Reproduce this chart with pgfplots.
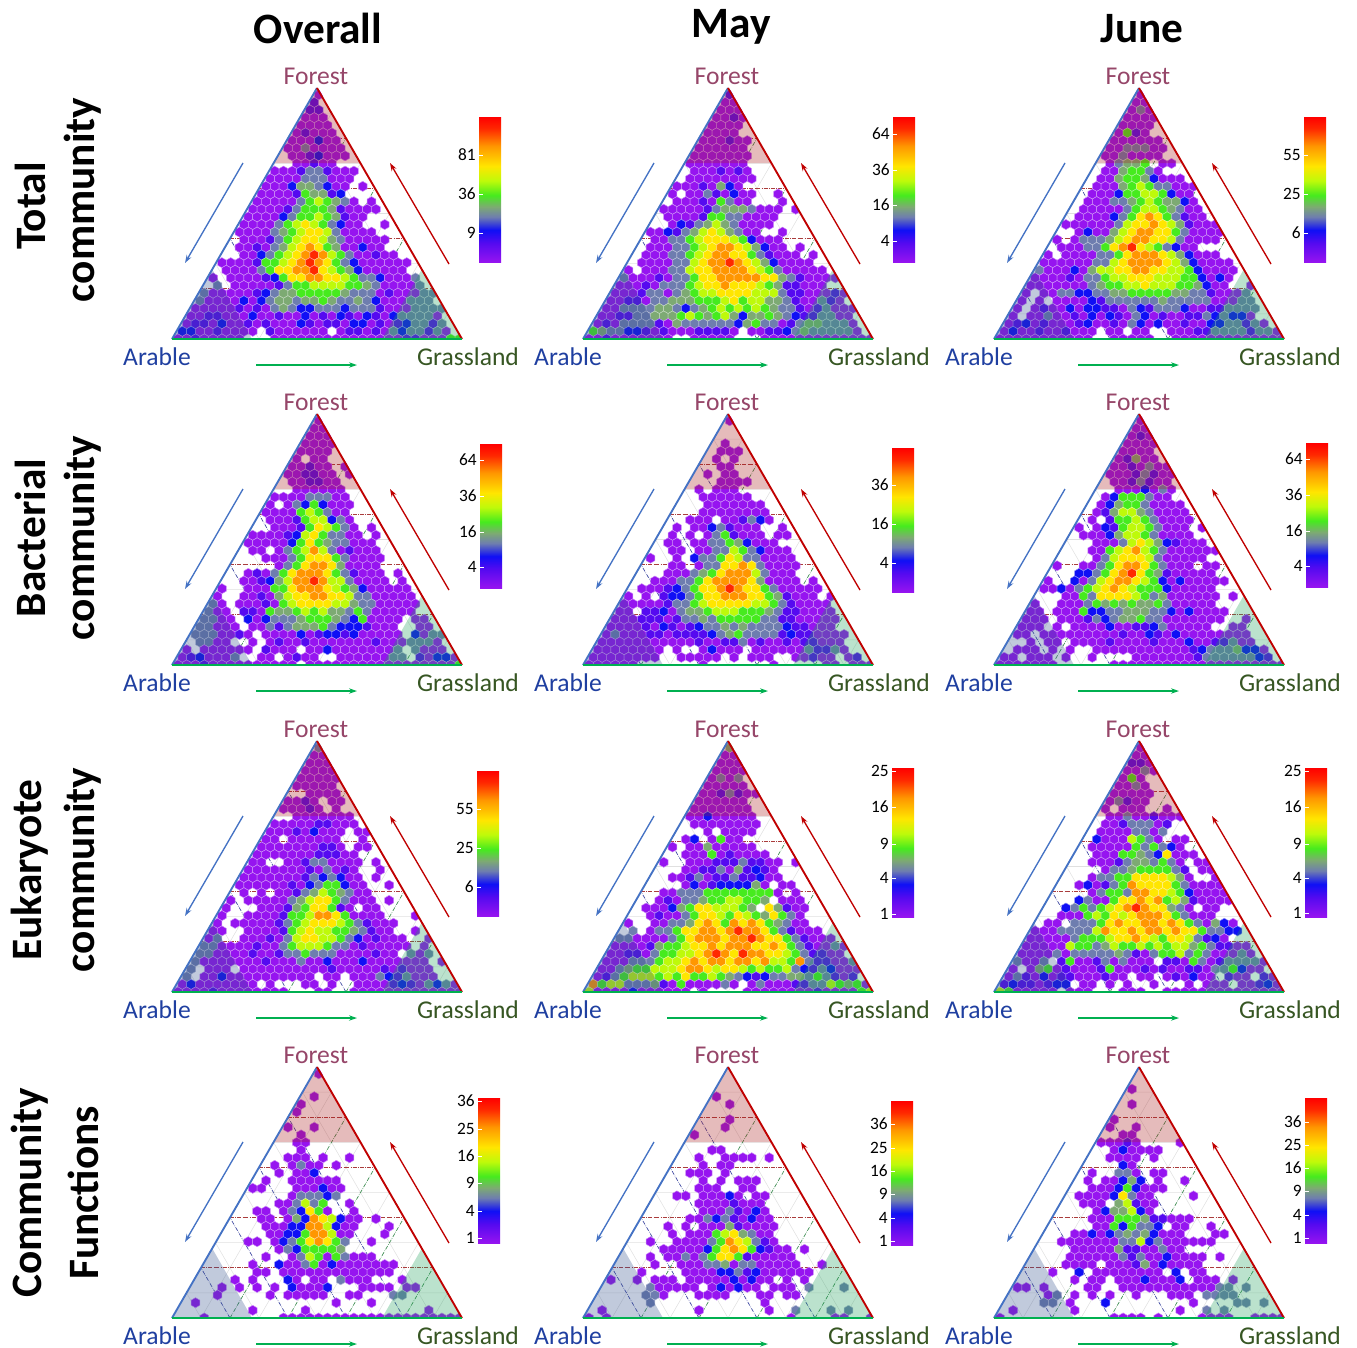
\documentclass[border=0pt]{standalone}
\usepackage{pgfplots}
\pgfplotsset{compat=1.18}
\usepackage{fontspec}
\setmainfont{Carlito}
\usetikzlibrary{arrows.meta}
\definecolor{c0}{RGB}{150,20,240}\definecolor{c1}{RGB}{85,10,240}\definecolor{c2}{RGB}{15,15,245}
\definecolor{c3}{RGB}{110,125,175}\definecolor{c4}{RGB}{125,170,115}\definecolor{c5}{RGB}{70,235,30}
\definecolor{c6}{RGB}{190,250,10}\definecolor{c7}{RGB}{255,230,0}\definecolor{c8}{RGB}{255,150,0}\definecolor{c9}{RGB}{255,40,0}
\pgfdeclareverticalshading{rb}{100bp}{color(0bp)=(c0);color(25bp)=(c0);color(31.5bp)=(c1);color(36bp)=(c2);color(40.5bp)=(c3);color(44bp)=(c4);color(48bp)=(c5);color(53bp)=(c6);color(58bp)=(c7);color(65bp)=(c8);color(71bp)=(c9);color(75bp)=(red);color(100bp)=(red)}
\pgfplotsset{colormap={hx}{color=(c0) color=(c1) color=(c2) color=(c3) color=(c4) color=(c5) color=(c6) color=(c7) color=(c8) color=(c9)}}
\pgfdeclareplotmark{hexc}{\pgfpathmoveto{\pgfqpoint{0pt}{3.81pt}}\pgfpathlineto{\pgfqpoint{3.3pt}{1.905pt}}\pgfpathlineto{\pgfqpoint{3.3pt}{-1.905pt}}\pgfpathlineto{\pgfqpoint{0pt}{-3.81pt}}\pgfpathlineto{\pgfqpoint{-3.3pt}{-1.905pt}}\pgfpathlineto{\pgfqpoint{-3.3pt}{1.905pt}}\pgfpathclose\pgfusepathqfillstroke}
\newcount\hi\newcount\hj
\def\addpt#1{\pgfmathparse{146.7+8.8*(\the\hi-\the\hj/2)}\let\px\pgfmathresult\pgfmathparse{244.2-7.63*\the\hj}\let\py\pgfmathresult\xdef\coordlist{\coordlist (\px,\py) [#1]}}
\def\RC#1{\ifx#1;\let\nx\relax\else\ifx#1/\global\advance\hj by 1 \global\hi=0 \let\nx\RC\else\ifx#1.\else\addpt{#1}\fi\global\advance\hi by 1 \let\nx\RC\fi\fi\nx}
\def\hexdata#1{\gdef\coordlist{}\global\hi=0 \global\hj=0 \expandafter\RC#1;}
\newcommand\panel[3]{\hexdata{#3}%
\begin{axis}[at={({#1*0.75pt},{-#2*0.75pt})},anchor=south west,x=0.75pt,y=0.75pt,xmin=0,xmax=290,ymin=0,ymax=251,hide axis,clip=false,clip marker paths=true,unbounded coords=jump,colormap name=hx,point meta min=0,point meta max=9]
\addplot[black!12,line width=0.4pt,forget plot] coordinates {(14.5,25.1)(275.5,25.1)(0,nan)(43.5,75.3)(246.5,75.3)(0,nan)(72.5,125.5)(217.5,125.5)(0,nan)(101.5,175.7)(188.5,175.7)(0,nan)(130.5,225.9)(159.5,225.9)(0,nan)(29,0)(14.5,25.1)(0,nan)(87,0)(43.5,75.3)(0,nan)(145,0)(72.5,125.5)(0,nan)(203,0)(101.5,175.7)(0,nan)(261,0)(130.5,225.9)(0,nan)(29,0)(159.5,225.9)(0,nan)(87,0)(188.5,175.7)(0,nan)(145,0)(217.5,125.5)(0,nan)(203,0)(246.5,75.3)(0,nan)(261,0)(275.5,25.1)};
\addplot[color={rgb,255:red,170;green,60;blue,60},densely dashdotted,line width=0.5pt,forget plot] coordinates {(29,50.2)(261,50.2)(0,nan)(58,100.4)(232,100.4)(0,nan)(87,150.6)(203,150.6)(0,nan)(116,200.8)(174,200.8)};
\addplot[color={rgb,255:red,60;green,70;blue,160},densely dashdotted,line width=0.5pt,forget plot] coordinates {(58,0)(29,50.2)(0,nan)(116,0)(58,100.4)(0,nan)(174,0)(87,150.6)(0,nan)(232,0)(116,200.8)};
\addplot[color={rgb,255:red,60;green,140;blue,80},densely dashdotted,line width=0.5pt,forget plot] coordinates {(58,0)(174,200.8)(0,nan)(116,0)(203,150.6)(0,nan)(174,0)(232,100.4)(0,nan)(232,0)(261,50.2)};
\edef\tmp{\noexpand\addplot[scatter,only marks,mark=hexc,point meta=explicit,line width=0.35pt,scatter/use mapped color={draw=white!55!mapped color,fill=mapped color}] coordinates {\coordlist};}\tmp
\addplot[fill=white,draw=none,forget plot] coordinates {(144.7,253)(-5,-9)(-12,-9)(-12,253)} --cycle;
\addplot[fill=white,draw=none,forget plot] coordinates {(145.3,253)(295,-9)(302,-9)(302,253)} --cycle;
\addplot[fill=white,draw=none,forget plot] coordinates {(-5,0)(295,0)(295,-9)(-5,-9)} --cycle;
\addplot[draw=none,fill={rgb,255:red,170;green,30;blue,30},fill opacity=0.3,forget plot] coordinates {(145,251)(102,176)(188,176)} --cycle;
\addplot[draw=none,fill={rgb,255:red,50;green,80;blue,140},fill opacity=0.3,forget plot] coordinates {(0,0)(80,0)(40,70)} --cycle;
\addplot[draw=none,fill={rgb,255:red,30;green,160;blue,90},fill opacity=0.3,forget plot] coordinates {(210,0)(290,0)(250,70)} --cycle;
\addplot[color={rgb,255:red,68;green,114;blue,196},line width=1.4pt,forget plot] coordinates {(0,0)(145,251)};
\addplot[color={rgb,255:red,192;green,0;blue,0},line width=1.4pt,forget plot] coordinates {(145,251)(290,0)};
\addplot[color={rgb,255:red,0;green,176;blue,80},line width=1.4pt,forget plot] coordinates {(0,0)(290,0)};
\addplot[color={rgb,255:red,68;green,114;blue,196},line width=1pt,-{Stealth[length=6pt,width=4pt]},forget plot] coordinates {(71,176)(13,76)};
\addplot[color={rgb,255:red,192;green,0;blue,0},line width=1pt,-{Stealth[length=6pt,width=4pt]},forget plot] coordinates {(277,75)(218,176)};
\addplot[color={rgb,255:red,0;green,176;blue,80},line width=1pt,-{Stealth[length=6pt,width=4pt]},forget plot] coordinates {(84,-26)(185,-26)};
\node[inner sep=0pt,font=\fontsize{19.2}{19.2}\selectfont,text={rgb,255:red,150;green,70;blue,105}] at (axis cs:144,263) {Forest};
\node[inner sep=0pt,font=\fontsize{19.2}{19.2}\selectfont,text={rgb,255:red,31;green,63;blue,160}] at (axis cs:-15,-18) {Arable};
\node[inner sep=0pt,font=\fontsize{19.2}{19.2}\selectfont,text={rgb,255:red,55;green,86;blue,35}] at (axis cs:296,-18) {Grassland};
\end{axis}}
\newcommand\cbar[5]{\begin{scope}[x=0.75pt,y=-0.75pt]\shade[shading=rb] (#1,#3) rectangle (#2,#4);
\foreach \v/\yy in {#5}{\draw[white,line width=0.5pt] (#1,\yy)--(#1+4,\yy);\node[anchor=east,inner sep=0pt,font=\fontsize{13}{14}\selectfont] at (#1-3,\yy) {\v};}\end{scope}}
\def\dA{0/1./11./000./0000./01000./000200./0030000./.0012000./..00100.../
0001331000./0000333000../0002443200.0./0000154412..../000003565430.0./000013555410000./
00002355654100.../00003567653200..0./0000345677630000.../.00013567764300000../
.00103467875400200.../..002356789865300100../0000155678987532000000./.0000357788976542 00000../
0.0000125778877653320003./.3.00000135566665543 00003./300000123445555543330100033/
3000020234 4344543343 2000333./0000010103 4322333233 310003333/0011000200 1002010210 210233330./
0110200101 0002101102 2010123313./220010000. 1000000.01 10103233130./00100000.. .000000000 0000001100 055}
\def\dB{1/00/000/0010/0000./0000../000100./000000../0000000../0000000.../
.0001010.../.00000000.../00010420...../0.00310200..0./.000105300...0./00000134443000.0/
.0000155330000.../..021346430000..../0021346764300..0.../.003356777652000..../.00033567887642 00.0../
.00033567887753 1000.0./.0000336788987642 0000../0.000 3367788887653 00000./300010335 7788888774 310000/
000103335 6778777654 11000../000133034 5667777666 31100010/001103344 4555675664 43100310./0033334432 3456565654 331013000/
0011334445 6545642445 432113300./0103333104 3333332453 3013443330./5433221010 0011110.00 11234333330./0010000000 ..00000... 0000000000 000}
\def\dC{0/00/030/0000/0000./0510../000000./0033300./0030000../.03445.00./.0045530.../.0045542000./.000456533000/.000255665200./
.00033456544 20./.00000356654300./.000023578753100./000000367787641000/..02004678877530000/0.03334678877630000./.0003357897653200..../
0.000033578887642000../0000003367888876420000./3000204667 7887766520 000./0000103356 6777666552 020../0000000345 5667666554 200..0/
0.00332233 4455555443 310003./0.0.000021 3333334333 3300033./0.01002022 1103213332 00113333./0.00300102 0210320100 11323220../
0120100012 0010320200 1002233130./0200100100 0.00.00..0 001133331330/0000000000 0..00000.. 0000000000 000}
\def\dD{0/00/000/0000/0000./0.00../00100.0/001100.0/.001100../..000000../00003330 0../0.03252000../0000565300.../.0001566230.../
..0001576530.0./00001267533 00.0./0000025754330 00../.00.03568630100 0../...0003577753 0000../.....035788740 000.../
..0103578887531000.0./..00124688986630000.0./0..00055 7888765420 0000./0..00104 6778877633 00000./30.00010 5677776643 300000./
300.1105 4456564435 300000../3300.202 3334555432 50000.00./33000.00 3134445322 21000..00./3330010.00 0020122120 0000.2033/
.3300..0.0 1001000000 010003330./0.000000.1 000.002000 00003.3000./0120003..0 0.0100..00 000033.10220/0001000000 0000.00000 0000000000 005}
\def\dE{0/../.../.0../.000./.0.0../..00.../.0.00.../...0000../.0.000..../..000000.../...0000000../...00000000../..000.0013 20..../
.0.00231000..0./.0.0.0351000.00./.00.0033542000.../..00.00336532000../0..0.2335 76330 000../...00.033 778730000../...000345 788863000 .../
..0003357 8888740000.0./.00012357 7898775300 000./0.0.12235 7788877541 000.0/000001335 6777776653 10000./00.112034 4566655543 110000./
000111013 3435555533 1100000./0000102101 2334343333 211000../0300011011 1123453333 12110000./0000000000 0100113010 01011000../
00000000.0 ..02000.00 000031130../00000000.. 00000.0.00 0..00100.01./000000.... ...0...... .0.....00. 000}
\def\dF{0/00/010/0000/0000./01400./0010300/00013100/.0013100./..00020 30./.02555300../.0245530000./.01466430000./.0.1556530000./
0.0215665 3000.0/.0002466530000../...0003676421000./...005678653000000/....03677763 00000../0..00357 88753000.00./...22357 89754 100000../
0..20367 8876520200 000./00203567 8765552000 00.../...00537 7776534000 000.0./0..00035 4545445300 000..../00.00052 2334443320 20000.../
000.0001 3234453300 00000..0./000.0.0000 2001123000 00..00../00.0000000 0010021020 0000000../..0.00.000 0100001000 20011300../
.000.0.0.. 0000000000 0123334220./00.000.0.. 0....00000 00133333321./0000000... ...0000000 0000000000 000}
\def\dG{3/00/000/0000/00000/00000./..0000./0010.00./00010.0../..0000000./0000011000./000102000.00/00.000000..0./0000000110.00./
000000011100.../00..00133000 0.0./0000000103010..0./00000001323200.0../0000001023 55200..0./.0.0.00134 654300..../0.00000346 7753000.0../
0...000145 775 10.00.../0..0000155 688750000. ..0./0.00000135 6777653100 0.../00..000015 6766554310 0..0./03..000103 6776653201 000..0/
3300001003 5666533010 0000.0./3300001001 3353330000 100.303./3000000010 0030020002 0000000.0/3.000.0000 0000001000 00101000../
3.00200000 00000.00.0 003213000../020000000. 0...00.0.. 000012103230/0000100000 000...00.. 0000000000 000}
\def\dH{4/00/000/0000/0303./00000./0013100/000000../0000000../00200000../.00000000../...0.0000.../.02.0500...../0.00400000..../
..0005010000.../0..000111 31100.0/...00113041210.../..00130113 11200.../....0201222240.00../..00333555 555550.0../..01033455 66554.000../
.000245776 6654.74100 ../..01003577 6576547530 .../0..0033478 7587875430 0.../.3.0335778 8789887531 000../3300003578 8878898775 31000./
0000145567 7878887787 5310030/0011035566 7898798877 6531100./0003335667 8788788786 658311003/0034556667 8876776565 5632132000/
0135666565 7556543212 3344353101./8566333410 5000030.03 000113365450/6000020000 00.0....00 0000001000 056}
\def\dI{0/00/110/0030/050../0030../00000../03100.../0.000..0./.003001000/.00133301../.000033 03.../.20006530.00./.00000535320../
..000554327000./..00013443 530.00/....033455 5531.00/...033557 777640..0/..02013587 777530000/....035538 8776520000/...2300577 87856410000/
..23535678 98774 30.00../..00056576 7888753000 .../.00.333578 7788787530 420./0003333687 7878878775 3322./0000035556 7787657763 120.../
0000065534 6556565664 531100./0000303333 3431035563 5300030./3003.15001 303000.110 530133330/0.04501000 1500010100 110335200./
0310201100 0100.00.01 0200.100.10/12110122.0 0.0.0..0.. .0.000.00120/6500000.00 0...000..0 0000000000 000}
\def\dJ{0/../.../.0../0..../0...../......./0..0..../..0....../..00....../...0......./..000.0..0../.0.0300.0..../..0.002......./
.0..000000...../00...00020 0...../.....033323....../....003635..0...../..00.032750..0...../...00.0428 76200.0.../....000228 86200...0../
.....00225 88600...0.../...00.0235 78753..0.. .../.......032 55554..... ..../......0..0 365053000. ...../.....0..20 0350200000 00..../
......00.0 0000000000 00...../....0.0... 20.00.3000 ...0..../...0.0.0.0 .20002...0 000.00.../...0.....0 .00000..00 ...33...../
.0........ .......0.. .0........./........0. ....0..... ........0.../...0...... ..00000000 0000000000 000}
\def\dK{./../.../0.../..0../....../...0.../...0..../0......../........../...00....../..0..0000.0./...0.00......./..000.0......./
....0.0.000..../....000..00...../..00.00020.00..../.....00001000...../......0003 1020...../.....00323 1020 0...../...0.0.000 4100 00...../
....0.0005 67430 0....../..0..00003 5876310 ..../....000002 578752100. 0.../...0.0030 3577510000 0..../....0..000 3340330000 0..0../
...0....00 0022312000 000..../0..0.000.0 0000 2020 0. 0.0...../.....30000 0.020200.0 00.3...3./.....330.. .0000...00 .00......./
......3... .........0 .........../.0........ ..0....... 0..3...3.3../0.0....... .......... ...0....00 ..0}
\def\dL{./../0../..../.0.../....../0....../0..0..../..00...../00010....0/..020000.../..0000.0..../....20......./.0..330.00..../
.0.00242.0..0../..00025200 0...../.00002 7300....0../..000.461 00......./....024462 0......../....000555 41100 0..../.....00525 33 2.00..0../
...0020234 3420 00...0 0./..00000003 3623000000 .../....000004 1100300... ..../....000000 3130020000 .0.../....0000.0 0014020000 ....../
...0..2.00 000000.2.0 0....../......0.00 .00020002. 000.0.../00.0....00 ..00000000 00033.3../....03.0.0 .0..0...00 0.3333..../
....33.0.. .2........ .0....3 3.3.../.0......0. .......... 0..3.3....../0......... ...0000.0. ...0000..0 000}
\begin{document}
\begin{tikzpicture}
\path[use as bounding box] (0,0) rectangle (1357*0.75pt,-1347*0.75pt);
\panel{172}{339}{\dA}\panel{583}{339}{\dB}\panel{994}{339}{\dC}
\panel{172}{665}{\dD}\panel{583}{665}{\dE}\panel{994}{665}{\dF}
\panel{172}{992}{\dG}\panel{583}{992}{\dH}\panel{994}{992}{\dI}
\panel{172}{1318}{\dJ}\panel{583}{1318}{\dK}\panel{994}{1318}{\dL}
\cbar{479}{501}{117}{262}{81/155,36/194,9/233}
\cbar{893}{915}{117}{262}{64/134,36/170,16/205,4/241}
\cbar{1304}{1326}{117}{262}{55/155,25/194,6/233}
\cbar{480}{502}{444}{588}{64/460,36/496,16/532,4/567}
\cbar{892}{914}{448}{592}{36/485,16/524,4/563}
\cbar{1306}{1328}{443}{587}{64/459,36/495,16/531,4/566}
\cbar{477}{499}{771}{916}{55/809,25/848,6/887}
\cbar{892}{914}{768}{917}{25/771,16/807,9/844,4/878,1/914}
\cbar{1305}{1327}{768}{917}{25/771,16/807,9/844,4/878,1/913}
\cbar{478}{500}{1098}{1243}{36/1101,25/1129,16/1156,9/1183,4/1211,1/1238}
\cbar{891}{913}{1101}{1245}{36/1124,25/1148,16/1171,9/1194,4/1218,1/1241}
\cbar{1305}{1327}{1098}{1243}{36/1122,25/1145,16/1168,9/1191,4/1215,1/1238}
\begin{scope}[x=0.75pt,y=-0.75pt,every node/.style={font=\bfseries\fontsize{32.5}{34}\selectfont}]
\node at (318,28) {Overall};\node at (731,27) {May};\node at (1142,29) {June};
\node[rotate=90] at (30,206) {Total};\node[rotate=90] at (83,200) {community};
\node[rotate=90] at (30,538) {Bacterial};\node[rotate=90] at (83,538) {community};
\node[rotate=90] at (30,870) {Eukaryote};\node[rotate=90] at (83,870) {community};
\node[rotate=90] at (30,1193) {Community};\node[rotate=90] at (83,1193) {Functions};
\end{scope}
\end{tikzpicture}
\end{document}
